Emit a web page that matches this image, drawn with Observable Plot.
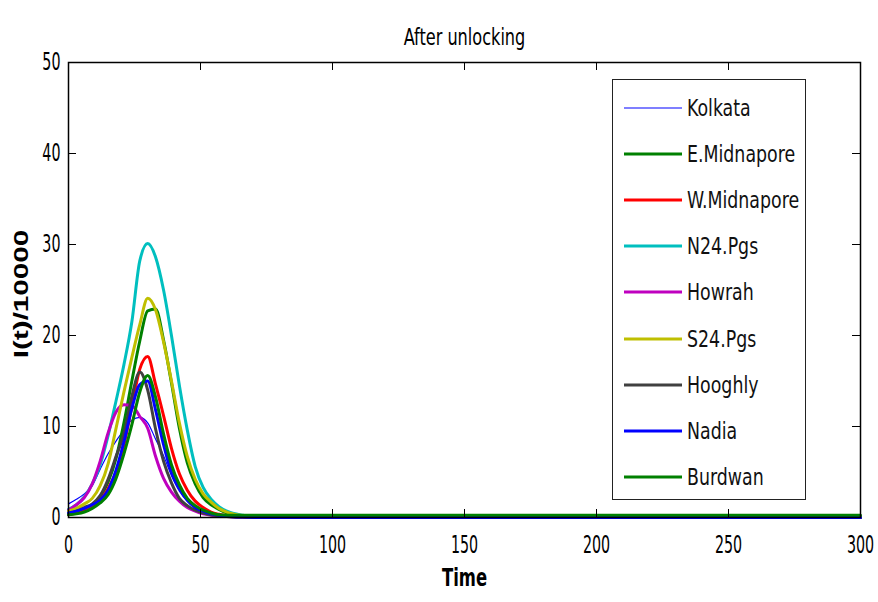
<!DOCTYPE html>
<html>
<head>
<meta charset="utf-8">
<script src="https://cdn.jsdelivr.net/npm/d3@7"></script>
<script src="https://cdn.jsdelivr.net/npm/@observablehq/plot@0.6"></script>
<style>
  body { margin: 0; background: #fff; }
  #wrap { position: relative; width: 878px; height: 602px; overflow: hidden; background: #fff; }
  #legend { position: absolute; left: 612px; top: 79px; width: 194px; height: 421px; border: 1.5px solid #222; background: #fff; box-sizing: border-box; }
  .row { position: absolute; left: 0; height: 30px; display: flex; align-items: center; white-space: nowrap; }
  .row span { display: inline-block; font-family: 'DejaVu Sans Condensed', 'DejaVu Sans', sans-serif; font-size: 23px; color: #111; margin-left: 4px; transform: scaleX(0.84); transform-origin: left center; }
</style>
</head>
<body>
<div id="wrap"></div>
<script>
// ---- data ----
const time = [0, 3, 6, 9, 12, 15, 18, 21, 24, 27, 30, 33, 36, 39, 42, 45, 48, 51, 54, 57, 60, 66, 72, 300];

const kolkata    = [1.5, 2.0, 2.6, 3.5, 5.3, 7.0, 8.4, 9.6, 10.7, 11.0, 10.4, 8.6, 6.8, 4.6, 2.9, 1.8, 1.1, 0.6, 0.35, 0.2, 0.1, 0.05, 0, 0];
const eMidnapore = [0.4, 0.6, 0.9, 1.4, 2.3, 3.9, 6.5, 10.4, 15.0, 19.4, 22.7, 22.9, 19.5, 14.8, 9.8, 6.0, 3.7, 2.2, 1.4, 0.9, 0.5, 0.2, 0.1, 0];
const wMidnapore = [0.3, 0.5, 0.8, 1.2, 1.9, 3.2, 5.0, 8.0, 12.2, 16.3, 17.7, 14.6, 11.2, 7.6, 4.8, 3.0, 1.8, 1.1, 0.6, 0.35, 0.2, 0.05, 0, 0];
const n24Pgs     = [0.9, 1.4, 2.3, 3.7, 5.8, 9.0, 12.8, 16.8, 21.5, 28.2, 30.1, 28.6, 25.0, 20.0, 14.5, 9.6, 5.6, 3.3, 2.0, 1.2, 0.7, 0.25, 0.08, 0];
const howrah     = [0.8, 1.4, 2.2, 3.7, 6.2, 9.3, 11.6, 12.4, 12.3, 11.1, 9.8, 6.7, 4.3, 2.8, 1.8, 1.1, 0.7, 0.4, 0.25, 0.15, 0.1, 0.05, 0, 0];
const s24Pgs     = [0.7, 1.0, 1.5, 2.1, 3.5, 5.9, 9.8, 13.8, 17.6, 21.2, 24.1, 22.8, 19.3, 15.0, 10.4, 6.7, 4.2, 2.6, 1.7, 1.0, 0.6, 0.2, 0.05, 0];
const hooghly    = [0.4, 0.7, 1.1, 1.5, 2.4, 4.2, 6.7, 9.2, 13.3, 16.0, 14.0, 9.7, 6.2, 3.8, 2.1, 1.3, 0.8, 0.5, 0.3, 0.2, 0.1, 0.05, 0, 0];
const nadia      = [0.5, 0.7, 1.0, 1.4, 1.9, 3.0, 5.2, 8.3, 12.0, 14.6, 15.0, 11.8, 8.0, 5.0, 3.2, 1.9, 1.1, 0.7, 0.4, 0.25, 0.15, 0.05, 0, 0];
const burdwan    = [0.3, 0.4, 0.6, 1.0, 1.6, 2.5, 4.3, 7.0, 10.2, 13.8, 15.6, 13.2, 9.2, 5.8, 3.6, 2.1, 1.3, 0.8, 0.5, 0.3, 0.25, 0.25, 0.25, 0.25];

const seriesNames  = ["Kolkata", "E.Midnapore", "W.Midnapore", "N24.Pgs", "Howrah", "S24.Pgs", "Hooghly", "Nadia", "Burdwan"];
const seriesColors = ["#0000ff", "#008000", "#ff0000", "#00bfbf", "#bf00bf", "#bfbf00", "#404040", "#0000ff", "#008000"];
const seriesWidths = [1.2, 3, 3, 3, 3, 3, 3, 3, 3];

const xTicks = [0, 50, 100, 150, 200, 250, 300];
const yTicks = [0, 10, 20, 30, 40, 50];

const titleText = "After unlocking";
const xLabel = "Time";
const yLabel = "I(t)/10000";

// ---- build ----
const seriesValues = [kolkata, eMidnapore, wMidnapore, n24Pgs, howrah, s24Pgs, hooghly, nadia, burdwan];
const seriesRows = seriesValues.map((vals, i) => time.map((t, j) => ({name: seriesNames[i], t, v: vals[j]})));

const narrow = "'DejaVu Sans Condensed', 'DejaVu Sans', sans-serif";
const W = 878, H = 602, mL = 68, mR = 18, mT = 62, mB = 85;
const frameW = W - mL - mR, frameH = H - mT - mB, tickLen = 8;

const lineMarks = seriesRows.map((rows, i) =>
  Plot.line(rows, {x: "t", y: "v", stroke: seriesColors[i], strokeWidth: seriesWidths[i], curve: "monotone-x"})
);

const chart = Plot.plot({
  width: W, height: H,
  marginLeft: mL, marginRight: mR, marginTop: mT, marginBottom: mB,
  style: {background: "#fff", color: "#000", fontFamily: narrow},
  x: {domain: [0, 300], ticks: xTicks},
  y: {domain: [0, 50], ticks: yTicks},
  marks: [
    ...lineMarks,
    Plot.axisX(xTicks, {tickSize: 0, tickPadding: 18, fontSize: 24, label: null, className: "sq"}),
    Plot.axisY(yTicks, {tickSize: 0, tickPadding: 8, fontSize: 24, label: null, className: "sq"}),
    Plot.ruleX(xTicks, {x: d => d, insetTop: frameH - tickLen, stroke: "#000"}),
    Plot.ruleX(xTicks, {x: d => d, insetBottom: frameH - tickLen, stroke: "#000"}),
    Plot.ruleY(yTicks, {y: d => d, insetRight: frameW - tickLen, stroke: "#000"}),
    Plot.ruleY(yTicks, {y: d => d, insetLeft: frameW - tickLen, stroke: "#000"}),
    Plot.frame({stroke: "#000", strokeWidth: 1.5}),
    Plot.text([titleText], {frameAnchor: "top", dy: -34, fontSize: 23, fontFamily: narrow, fill: "#000", className: "ttl"}),
    Plot.text([xLabel], {frameAnchor: "bottom", dy: 68, fontSize: 25, fontWeight: "bold", fontFamily: narrow, fill: "#000", className: "xlab"}),
    Plot.text([yLabel], {frameAnchor: "left", textAnchor: "middle", dx: -47, dy: 4, rotate: -90, fontSize: 20, fontWeight: "bold", fontFamily: "'Liberation Sans', Arial, sans-serif", fill: "#000", className: "ylab"})
  ]
});

const wrap = document.getElementById("wrap");
wrap.appendChild(chart);

// horizontal squeeze / stretch of text so glyph proportions match the reference
function squeeze(sel, s) {
  d3.select(chart).selectAll(sel).each(function() {
    const tr = this.getAttribute("transform") || "";
    this.setAttribute("transform", tr + " " + s);
  });
}
squeeze(".sq text", "scale(0.66,1)");
squeeze(".ttl text", "scale(0.78,1)");
squeeze(".xlab text", "scale(0.73,1)");
squeeze(".ylab text", "scale(1.48,1)");

// legend
const legend = document.createElement("div");
legend.id = "legend";
seriesNames.forEach((name, i) => {
  const row = document.createElement("div");
  row.className = "row";
  row.style.top = (28 + i * 46.1 - 15) + "px";
  row.style.left = "10px";
  const sw = document.createElementNS("http://www.w3.org/2000/svg", "svg");
  sw.setAttribute("width", "60"); sw.setAttribute("height", "10");
  const ln = document.createElementNS("http://www.w3.org/2000/svg", "line");
  ln.setAttribute("x1", "1"); ln.setAttribute("x2", "59");
  ln.setAttribute("y1", "5"); ln.setAttribute("y2", "5");
  ln.setAttribute("stroke", seriesColors[i]);
  ln.setAttribute("stroke-width", seriesWidths[i]);
  sw.appendChild(ln);
  const label = document.createElement("span");
  label.textContent = name;
  row.appendChild(sw); row.appendChild(label);
  legend.appendChild(row);
});
wrap.appendChild(legend);
</script>
</body>
</html>
